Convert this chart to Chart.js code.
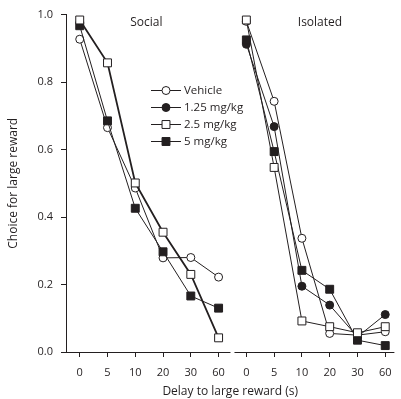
<!DOCTYPE html>
<html>
<head>
<meta charset="utf-8">
<script src="https://cdn.jsdelivr.net/npm/chart.js@4/dist/chart.umd.min.js"></script>
<style>
  html, body { margin: 0; padding: 0; background: #fff; }
  #wrap { width: 401px; height: 399px; }
</style>
</head>
<body>
<div id="wrap"><canvas id="c" width="401" height="399"></canvas></div>
<script>
// ---- data ----
const delays = ["0", "5", "10", "20", "30", "60"];
const panels = ["Social", "Isolated"];
const seriesNames = ["Vehicle", "1.25 mg/kg", "2.5 mg/kg", "5 mg/kg"];

const socialVehicle = [0.927, 0.665, 0.486, 0.279, 0.280, 0.222];
const social25      = [0.984, 0.857, 0.501, 0.355, 0.230, 0.042];
const social5       = [0.967, 0.685, 0.426, 0.297, 0.166, 0.130];

const isolatedVehicle = [0.980, 0.743, 0.337, 0.055, 0.050, 0.060];
const isolated125     = [0.912, 0.668, 0.195, 0.139, 0.045, 0.111];
const isolated25      = [0.984, 0.547, 0.092, 0.075, 0.057, 0.075];
const isolated5       = [0.925, 0.594, 0.242, 0.186, 0.035, 0.019];

const yTicks = [0, 0.2, 0.4, 0.6, 0.8, 1.0];

// ---- styles ----
const INK = '#231f20';
const FONT = '"Open Sans", "Liberation Sans", sans-serif';
const styles = [
  { pointStyle: 'circle', radius: 4,   fill: '#ffffff' },
  { pointStyle: 'circle', radius: 4,   fill: INK },
  { pointStyle: 'rect',   radius: 5.6, fill: '#ffffff' },
  { pointStyle: 'rect',   radius: 5.6, fill: INK }
];

function toPoints(values, panelIndex) {
  return values.map((v, i) => ({ x: panelIndex * delays.length + i, y: v }));
}
function makeDataset(values, panelIndex, seriesIndex, order, lw) {
  const s = styles[seriesIndex];
  return {
    label: seriesNames[seriesIndex],
    data: toPoints(values, panelIndex),
    borderColor: INK,
    borderWidth: lw || 1,
    pointStyle: s.pointStyle,
    pointRadius: s.radius,
    pointHoverRadius: s.radius,
    pointBackgroundColor: s.fill,
    pointBorderColor: INK,
    pointBorderWidth: 1,
    fill: false,
    tension: 0,
    clip: false,
    order: order
  };
}

const datasets = [
  makeDataset(socialVehicle, 0, 0, 3),
  makeDataset(social5, 0, 3, 2),
  makeDataset(social25, 0, 2, 1, 1.8),
  makeDataset(isolatedVehicle, 1, 0, 4),
  makeDataset(isolated125, 1, 1, 3),
  makeDataset(isolated5, 1, 3, 2),
  makeDataset(isolated25, 1, 2, 1)
];

// split x-axis line plus panel titles and legend
const decorations = {
  id: 'decorations',
  afterDatasetsDraw(chart) {
    const ctx = chart.ctx;
    const xs = chart.scales.x;
    const area = chart.chartArea;
    ctx.save();
    const mid = xs.getPixelForValue(delays.length - 0.5);
    ctx.strokeStyle = INK;
    ctx.lineWidth = 1;
    ctx.beginPath();
    ctx.moveTo(area.left, area.bottom + 0.5);
    ctx.lineTo(mid - 2, area.bottom + 0.5);
    ctx.moveTo(mid + 2, area.bottom + 0.5);
    ctx.lineTo(area.right, area.bottom + 0.5);
    ctx.stroke();

    ctx.fillStyle = INK;
    ctx.font = '12px ' + FONT;
    ctx.textAlign = 'center';
    ctx.textBaseline = 'middle';
    ctx.fillText(panels[0], xs.getPixelForValue(2.4), 23);
    ctx.fillText(panels[1], xs.getPixelForValue(8.65), 23);

    ctx.font = '11.5px ' + FONT;
    ctx.textAlign = 'left';
    seriesNames.forEach((name, i) => {
      const y = 90 + i * 17;
      ctx.strokeStyle = INK;
      ctx.lineWidth = 1;
      ctx.beginPath();
      ctx.moveTo(151, y + 0.5);
      ctx.lineTo(181, y + 0.5);
      ctx.stroke();
      ctx.fillStyle = styles[i].fill;
      ctx.strokeStyle = INK;
      Chart.helpers.drawPoint(ctx, { pointStyle: styles[i].pointStyle, radius: styles[i].radius, borderWidth: 1 }, 166, y + 0.5);
      ctx.fillStyle = INK;
      ctx.fillText(name, 184, y + 1);
    });
    ctx.restore();
  }
};

new Chart(document.getElementById('c'), {
  type: 'line',
  data: { datasets: datasets },
  options: {
    responsive: false,
    animation: false,
    events: [],
    layout: { padding: { top: 13, right: 0, left: 0, bottom: 0 } },
    plugins: { legend: { display: false }, tooltip: { enabled: false } },
    scales: {
      x: {
        type: 'linear',
        min: -0.494,
        max: 11.33,
        afterBuildTicks(scale) {
          scale.ticks = [];
          for (let i = 0; i < panels.length * delays.length; i++) scale.ticks.push({ value: i });
        },
        afterFit(scale) { scale.height = 47; },
        border: { display: false },
        grid: { display: true, drawOnChartArea: false, drawTicks: true, tickLength: 5, color: INK, tickColor: INK },
        ticks: {
          color: INK,
          font: { family: FONT, size: 11 },
          padding: 9,
          maxRotation: 0,
          autoSkip: false,
          callback: (v) => delays[Math.round(v) % delays.length]
        },
        title: {
          display: true,
          text: 'Delay to large reward (s)',
          color: INK,
          font: { family: FONT, size: 12 },
          padding: { top: 0, bottom: 0 }
        }
      },
      y: {
        min: 0,
        max: 1,
        afterBuildTicks(scale) { scale.ticks = yTicks.map(v => ({ value: v })); },
        afterFit(scale) { scale.width = 66; },
        border: { display: true, color: INK, width: 1 },
        grid: { display: true, drawOnChartArea: false, drawTicks: true, tickLength: 5, color: INK, tickColor: INK },
        ticks: {
          color: INK,
          font: { family: FONT, size: 11 },
          padding: 8,
          callback: (v) => Number(v).toFixed(1)
        },
        title: {
          display: true,
          text: 'Choice for large reward',
          color: INK,
          font: { family: FONT, size: 12 },
          padding: { top: 6, bottom: 0 }
        }
      }
    }
  },
  plugins: [decorations]
});
</script>
</body>
</html>
